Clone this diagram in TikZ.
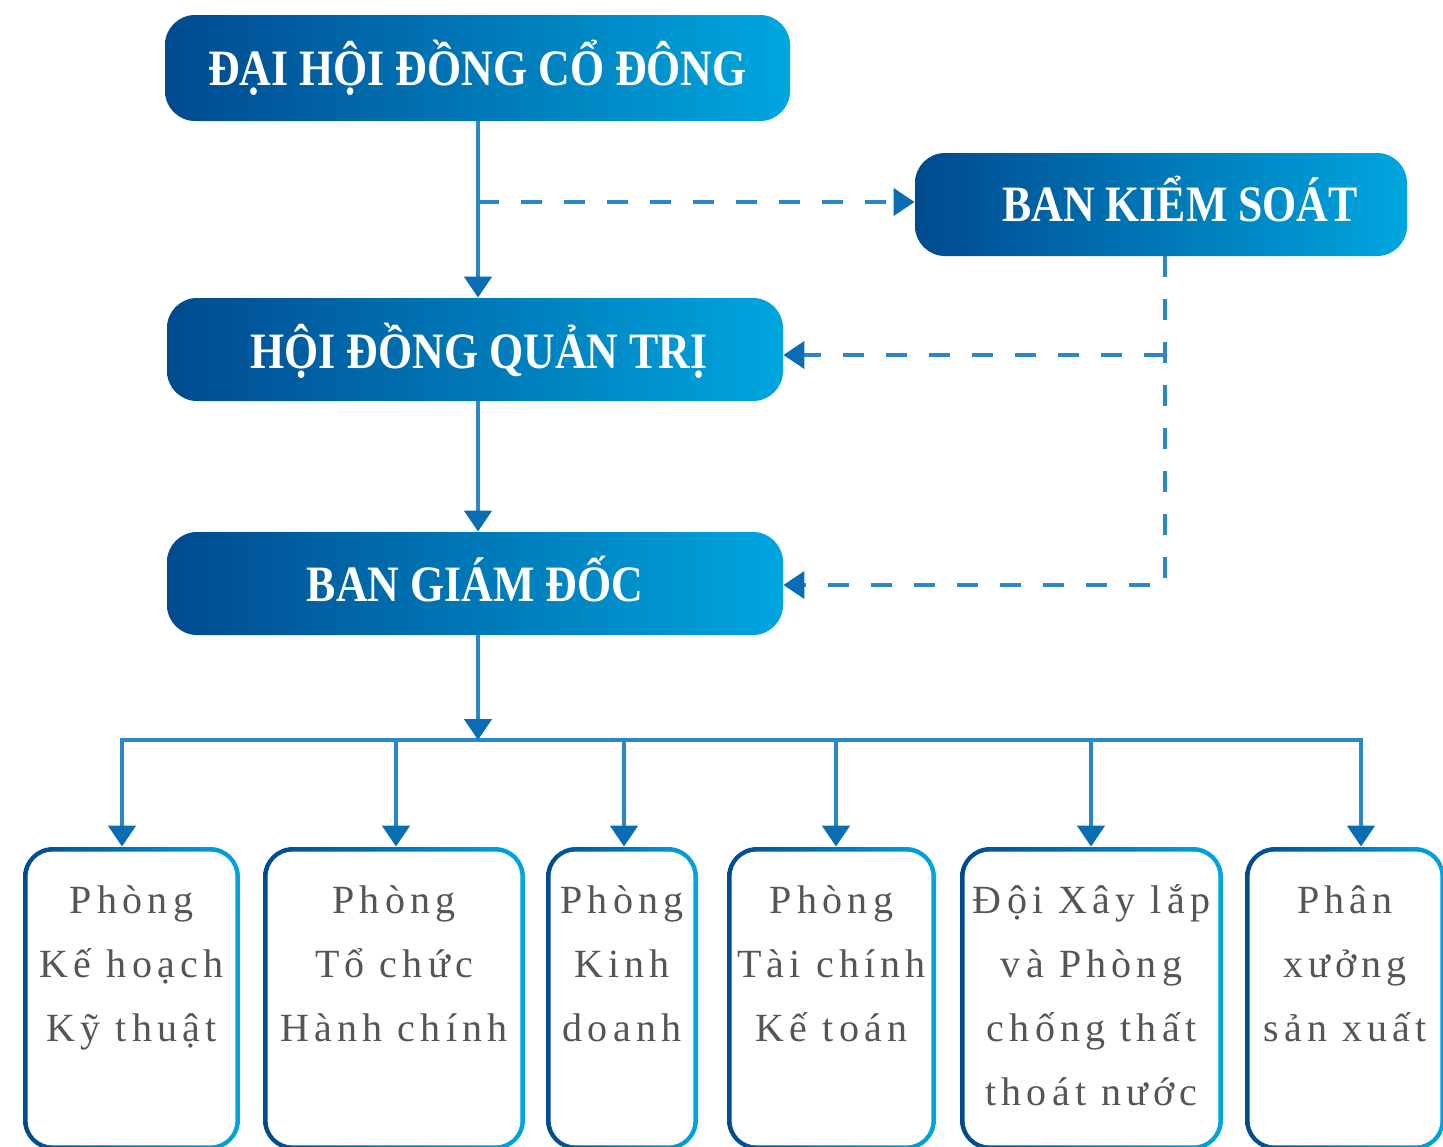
\documentclass[tikz,border=0pt]{standalone}
\usepackage{fontspec}
\setmainfont{Liberation Serif}
\newfontfamily\headfont[FakeStretch=0.86]{Liberation Serif}
\newfontfamily\boxfont[LetterSpace=13]{Liberation Serif}
\usetikzlibrary{arrows.meta, fit}
\definecolor{bdark}{HTML}{004A8F}
\definecolor{blight}{HTML}{00A6DF}
\definecolor{linkblue}{HTML}{2A87C8}
\definecolor{tipblue}{HTML}{0A6DB3}
\definecolor{textgray}{HTML}{555555}

\begin{document}
\begin{tikzpicture}[x=0.5pt,y=-0.5pt,
  headbox/.style={inner sep=0pt, rounded corners=15pt, left color=bdark, right color=blight},
  headtext/.style={anchor=base, inner sep=0pt, text=white,
    font=\headfont\bfseries\fontsize{25.5}{30}\selectfont},
  lowbox/.style={inner sep=0pt, rounded corners=15pt, left color=bdark, right color=blight},
  lowtext/.style={anchor=north, inner sep=0pt, align=center, text=textgray,
    font=\boxfont\fontsize{20}{32}\selectfont},
  link/.style={draw=linkblue, line width=2.3pt},
  dlink/.style={draw=linkblue, line width=2pt, dash pattern=on 10.5pt off 11pt},
  arr/.style={-{Triangle[width=13.5pt, length=10.5pt, color=tipblue]}}]
\path[use as bounding box, clip] (0,0) rectangle (1443,1146);

% upper boxes
\node[headbox, fit={(165,15) (790,121)}] (dhcd) {};
\node[headbox, fit={(915,153) (1407,256)}] (bks) {};
\node[headbox, fit={(167,298) (783,401)}] (hdqt) {};
\node[headbox, fit={(167,532) (783,635)}] (bgd) {};
\node[headtext] (dhcd-t) at ([yshift=-8.5pt]dhcd.center) {ĐẠI HỘI ĐỒNG CỔ ĐÔNG};
\node[headtext] (bks-t) at ([xshift=9.5pt,yshift=-8.5pt]bks.center) {BAN KIỂM SOÁT};
\node[headtext] (hdqt-t) at ([xshift=2pt,yshift=-9.5pt]hdqt.center) {HỘI ĐỒNG QUẢN TRỊ};
\node[headtext] (bgd-t) at ([yshift=-9pt]bgd.center) {BAN GIÁM ĐỐC};

% lower boxes
\foreach \n/\xa/\xb/\txt in {
    b1/23/240/{Phòng\\Kế hoạch\\Kỹ thuật},
    b2/263/525/{Phòng\\Tổ chức\\Hành chính},
    b3/546/698/{Phòng\\Kinh\\doanh},
    b4/727/936/{Phòng\\Tài chính\\Kế toán},
    b5/960/1223/{Đội Xây lắp\\và Phòng\\chống thất\\thoát nước},
    b6/1245/1445/{Phân\\xưởng\\sản xuất}} {
  \node[lowbox, fit={(\xa,847) (\xb,1150)}] (\n) {};
  \fill[white, rounded corners=12.5pt] ([shift={(2.5pt,-2.5pt)}]\n.north west)
    rectangle ([shift={(-2.5pt,2.5pt)}]\n.south east);
  \node[lowtext] (t\n) at ([yshift=-14.5pt]\n.north) {\rule{0pt}{18.5pt}\txt};
}

% solid links
\coordinate (j1) at (478,202);
\draw[link, arr] (j1 |- dhcd.south) -- (j1 |- hdqt.north);
\draw[link, arr] (j1 |- hdqt.south) -- (j1 |- bgd.north);
\foreach \n/\xd in {b1/122, b2/396, b3/624, b4/836, b5/1091, b6/1361}
  \coordinate (d\n) at (\xd,740);
\draw[link, line cap=rect] (db1) -- (db6);
\draw[link, arr] (j1 |- bgd.south) -- (j1 |- db1);
\foreach \n in {b1,b2,b3,b4,b5,b6}
  \draw[link, arr] (d\n) -- (d\n |- \n.north);

% dashed links
\coordinate (k0) at (1165,256);
\coordinate (k1) at (1165,355);
\coordinate (k2) at (1165,585);
\draw[dlink, arr] (j1) -- (j1 -| bks.west);
\draw[dlink, arr] (k0) -- (k2) -- (k2 -| bgd.east);
\draw[dlink, arr] (k1) -- (k1 -| hdqt.east);
\end{tikzpicture}
\end{document}
